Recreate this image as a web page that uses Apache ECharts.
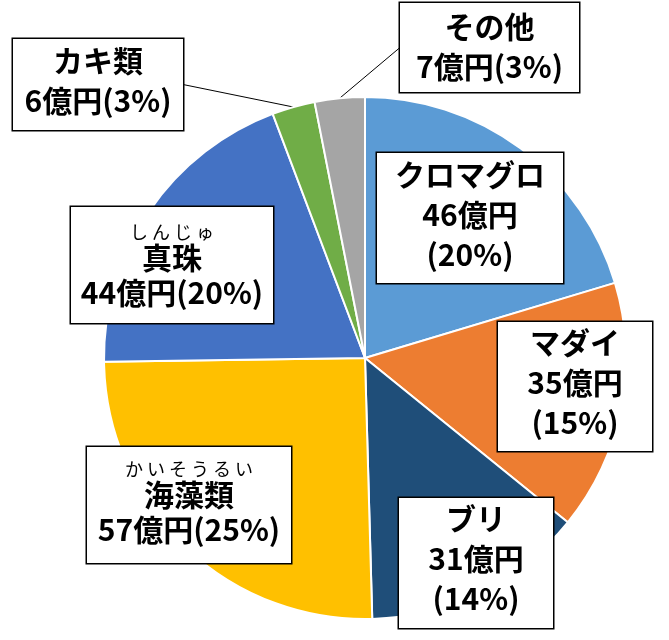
<!DOCTYPE html>
<html><head><meta charset="utf-8">
<script src="https://cdn.jsdelivr.net/npm/echarts@6/dist/echarts.min.js"></script>
<style>html,body{margin:0;padding:0;background:#fff}#c{width:669px;height:640px}</style>
</head><body><div id="c"></div>
<script>
// ---- data ----
const names = ['クロマグロ','マダイ','ブリ','海藻類','真珠','カキ類','その他'];
const readings = ['','','','かいそうるい','しんじゅ','',''];
const values = [46,35,31,57,44,6,7];      // 億円
const percents = [20,15,14,25,20,3,3];    // % as printed
// ---- style ----
const colors = ['#5B9BD5','#ED7D31','#1F4E79','#FFC000','#4472C4','#70AD47','#A5A5A5'];
const boxes = [
  {cx:470,  cy:218,  w:186, pt:2,  pb:8,  mode:'three'},
  {cx:575,  cy:386.5,w:154, pt:1,  pb:8,  mode:'three'},
  {cx:476,  cy:563,  w:154, pt:1,  pb:9,  mode:'three'},
  {cx:189,  cy:505,  w:204, pt:11, pb:13, mode:'ruby'},
  {cx:172,  cy:265,  w:202, pt:14, pb:10, mode:'ruby'},
  {cx:98,   cy:84.5, w:170, pt:2,  pb:9,  mode:'two', line:'right'},
  {cx:489.5,cy:47.5, w:179, pt:4,  pb:5,  mode:'two', line:'left'}
];
const FONT = "'Noto Sans CJK JP','Noto Sans',sans-serif";

function labelText(i){
  const b = boxes[i], n = names[i], v = values[i], p = percents[i];
  if (b.mode === 'three') return `{m|${n}}\n{m|${v}億円}\n{m|(${p}%)}`;
  if (b.mode === 'ruby') return `{r|${readings[i].split('').join(' ')}}\n{k|${n}}\n{m|${v}億円(${p}%)}`;
  return `{m|${n}}\n{m|${v}億円(${p}%)}`;
}

const data = names.map((n,i)=>({
  name:n, value:values[i],
  itemStyle:{color:colors[i]},
  label:{width:boxes[i].w, overflow:'none', padding:[boxes[i].pt,0,boxes[i].pb,0], formatter:()=>labelText(i)},
  labelLine:{show:!!boxes[i].line}
}));

const chart = echarts.init(document.getElementById('c'), null, {renderer:'canvas'});
chart.setOption({
  animation:false,
  backgroundColor:'#fff',
  series:[{
    type:'pie',
    center:[365,358],
    radius:261,
    startAngle:90,
    clockwise:true,
    avoidLabelOverlap:false,
    itemStyle:{borderColor:'#fff', borderWidth:2},
    emphasis:{disabled:true},
    label:{
      show:true, position:'outside', color:'#000', overflow:'none',
      fontFamily:FONT, fontWeight:'bold', fontSize:30,
      backgroundColor:'#fff', borderColor:'#000', borderWidth:1.5,
      align:'center',
      rich:{
        m:{fontFamily:FONT, fontWeight:'bold', fontSize:30, lineHeight:40, color:'#000', align:'center'},
        k:{fontFamily:FONT, fontWeight:'bold', fontSize:30, lineHeight:30, color:'#000', align:'center'},
        r:{fontFamily:FONT, fontWeight:'normal', fontSize:18, lineHeight:22, color:'#000', align:'center'}
      }
    },
    labelLine:{show:true, length:10, length2:10, smooth:false, lineStyle:{color:'#000', width:1}},
    labelLayout:function(params){
      const b = boxes[params.dataIndex];
      const out = {x:b.cx, y:b.cy, align:'center', verticalAlign:'middle'};
      if (b.line && params.labelLinePoints){
        const p0 = params.labelLinePoints[0];
        const ex = b.line === 'right' ? b.cx + b.w/2 : b.cx - b.w/2;
        out.labelLinePoints = [p0, p0, [ex, b.cy]];
      }
      return out;
    },
    data:data
  }]
});
</script>
</body></html>
